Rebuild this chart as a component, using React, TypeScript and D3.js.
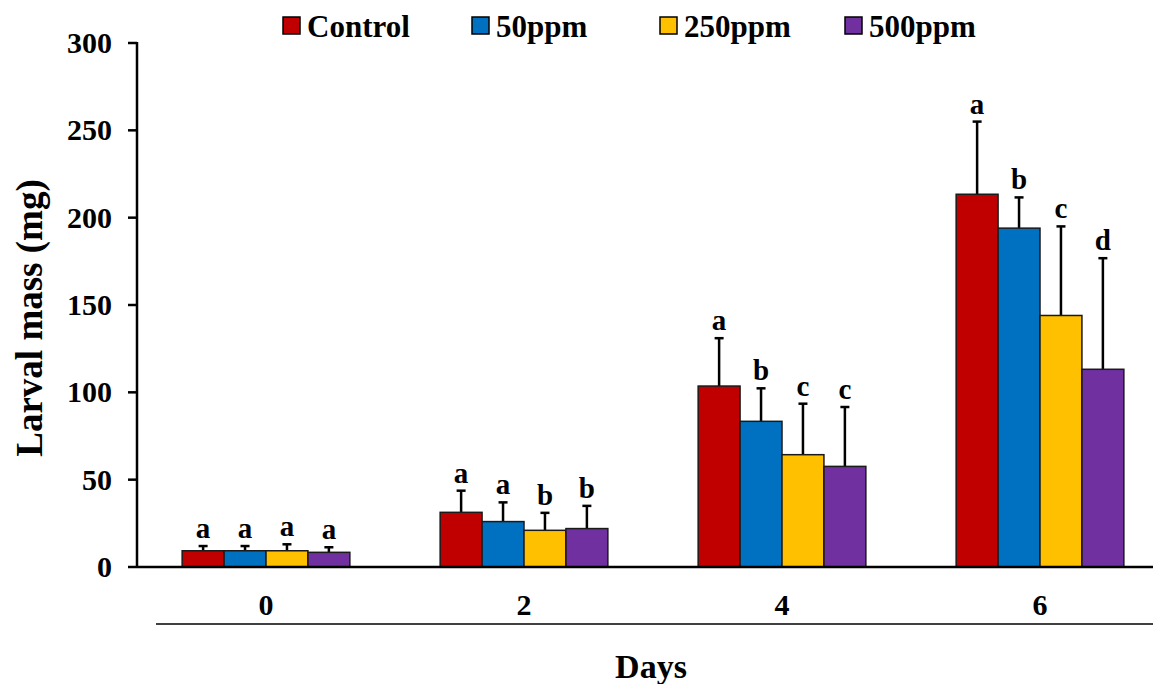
import React from "react";
import * as d3 from "d3";

const days = ["0", "2", "4", "6"];
const seriesNames = ["Control", "50ppm", "250ppm", "500ppm"];
const seriesColors = ["#C00000", "#0070C0", "#FFC000", "#7030A0"];

// Mean larval mass (mg) per day, one array per treatment
const controlMean = [9.3, 31.3, 103.6, 213.4];
const ppm50Mean = [9.3, 26, 83.4, 194];
const ppm250Mean = [9.3, 21, 64.3, 144];
const ppm500Mean = [8.4, 22, 57.6, 113.2];

// Upper end of each error bar (mean + SD)
const controlUpper = [12, 43.7, 131, 255];
const ppm50Upper = [12, 37, 102.3, 211.6];
const ppm250Upper = [13, 31, 93.5, 195];
const ppm500Upper = [11.3, 35, 91.6, 176.8];

// Significance letters
const controlLetters = ["a", "a", "a", "a"];
const ppm50Letters = ["a", "a", "b", "b"];
const ppm250Letters = ["a", "b", "c", "c"];
const ppm500Letters = ["a", "b", "c", "d"];

const yTicks = [0, 50, 100, 150, 200, 250, 300];

const means = [controlMean, ppm50Mean, ppm250Mean, ppm500Mean];
const uppers = [controlUpper, ppm50Upper, ppm250Upper, ppm500Upper];
const letters = [controlLetters, ppm50Letters, ppm250Letters, ppm500Letters];

const W = 1153;
const H = 684;
const FONT = "'Liberation Serif', 'Times New Roman', serif";

export default function App() {
  const x0 = 137;
  const y = d3.scaleLinear().domain([0, 300]).range([567, 43]);
  const x = d3.scaleBand<string>().domain(days).range([x0, 1169]).paddingInner(0.35).paddingOuter(0.175);
  const xs = d3.scaleBand<string>().domain(seriesNames).range([0, x.bandwidth()]);

  const legendX = [283, 472, 660, 845];

  return (
    <svg width={W} height={H} style={{ position: "absolute", left: 0, top: 0, background: "#fff" }} fontFamily={FONT}>
      {/* legend */}
      {seriesNames.map((s, i) => (
        <g key={s}>
          <rect x={legendX[i]} y={17} width={17} height={17} fill={seriesColors[i]} stroke="#000" strokeWidth={1.5} />
          <text x={legendX[i] + 24} y={37} fontSize={31} fontWeight="bold">{s}</text>
        </g>
      ))}

      {/* bars, error bars and letters */}
      {days.map((d, di) => (
        <g key={d} transform={`translate(${x(d)},0)`}>
          {seriesNames.map((s, si) => {
            const bx = xs(s)!;
            const bw = xs.bandwidth();
            const cx = bx + bw / 2;
            const top = y(means[si][di]);
            const up = y(uppers[si][di]);
            return (
              <g key={s}>
                <line x1={cx} x2={cx} y1={top} y2={up} stroke="#000" strokeWidth={2.5} />
                <line x1={cx - 4.5} x2={cx + 4.5} y1={up} y2={up} stroke="#000" strokeWidth={2.5} />
                <rect x={bx} y={top} width={bw} height={y(0) - top} fill={seriesColors[si]} stroke="#1a1a1a" strokeWidth={1.5} />
                <text x={cx} y={up - 8} textAnchor="middle" fontSize={29} fontWeight="bold">{letters[si][di]}</text>
              </g>
            );
          })}
        </g>
      ))}

      {/* y axis */}
      <line x1={x0} x2={x0} y1={y(300) - 1} y2={y(0)} stroke="#000" strokeWidth={2.5} />
      {yTicks.map((t) => (
        <g key={t}>
          <line x1={x0 - 9} x2={x0} y1={y(t)} y2={y(t)} stroke="#000" strokeWidth={2.5} />
          <text x={112} y={y(t) + 10} textAnchor="end" fontSize={30} fontWeight="bold">{t}</text>
        </g>
      ))}

      {/* x axis */}
      <line x1={x0} x2={W} y1={y(0)} y2={y(0)} stroke="#000" strokeWidth={2.5} />
      {days.map((d) => (
        <text key={d} x={x(d)! + x.bandwidth() / 2} y={615} textAnchor="middle" fontSize={30} fontWeight="bold">{d}</text>
      ))}
      <line x1={156} x2={W} y1={624} y2={624} stroke="#000" strokeWidth={1.5} />

      {/* axis titles */}
      <text x={651} y={678} textAnchor="middle" fontSize={34} fontWeight="bold">Days</text>
      <text transform={`translate(42,318) rotate(-90)`} textAnchor="middle" fontSize={37} fontWeight="bold">Larval mass (mg)</text>
    </svg>
  );
}
